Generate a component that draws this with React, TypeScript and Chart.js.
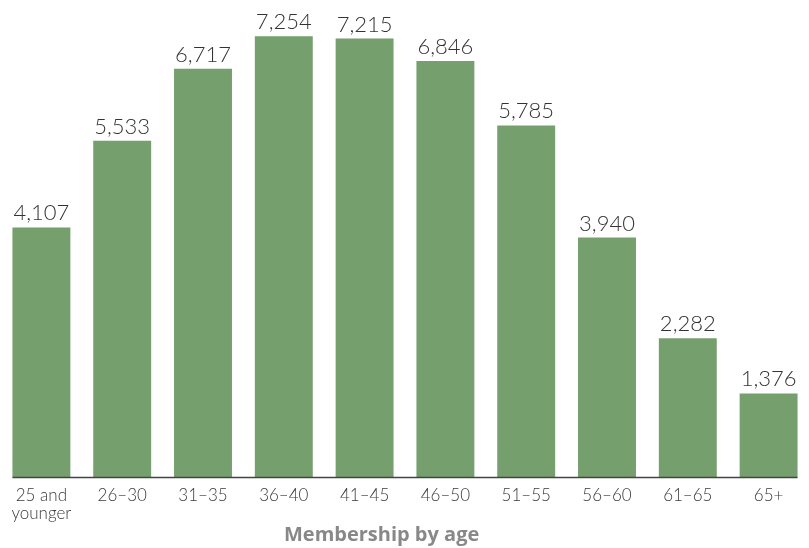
import React, { useEffect, useRef } from "react";
import { Chart, registerables } from "chart.js";

Chart.register(...registerables);

const categories: (string | string[])[] = [
  ["25 and", "younger"],
  "26–30",
  "31–35",
  "36–40",
  "41–45",
  "46–50",
  "51–55",
  "56–60",
  "61–65",
  "65+",
];
const members: number[] = [4107, 5533, 6717, 7254, 7215, 6846, 5785, 3940, 2282, 1376];
const axisTitle = "Membership by age";

const BAR_COLOR = "#759f6d";

const valueLabels = {
  id: "valueLabels",
  afterDatasetsDraw(chart: any) {
    const ctx = chart.ctx;
    const meta = chart.getDatasetMeta(0);
    const data = chart.data.datasets[0].data as number[];
    ctx.save();
    ctx.font = "300 22px Lato, 'Open Sans', sans-serif";
    ctx.fillStyle = "#333333";
    ctx.textAlign = "center";
    ctx.textBaseline = "alphabetic";
    meta.data.forEach((bar: any, i: number) => {
      ctx.fillText(data[i].toLocaleString("en-US"), bar.x, bar.y - 7);
    });
    // baseline
    const first = meta.data[0];
    const last = meta.data[meta.data.length - 1];
    const y = chart.scales.y.getPixelForValue(0);
    ctx.strokeStyle = "#444444";
    ctx.lineWidth = 1.5;
    ctx.beginPath();
    ctx.moveTo(first.x - first.width / 2, y + 0.5);
    ctx.lineTo(last.x + last.width / 2, y + 0.5);
    ctx.stroke();
    ctx.restore();
  },
};

export default function App() {
  const ref = useRef<HTMLCanvasElement | null>(null);
  useEffect(() => {
    if (!ref.current) return;
    const chart = new Chart(ref.current, {
      type: "bar",
      data: {
        labels: categories,
        datasets: [
          {
            data: members,
            backgroundColor: BAR_COLOR,
            barPercentage: 0.717,
            categoryPercentage: 1,
          },
        ],
      },
      options: {
        animation: false,
        responsive: true,
        maintainAspectRatio: false,
        layout: { padding: { top: 3, left: 1, right: 0, bottom: 0 } },
        plugins: {
          legend: { display: false },
          tooltip: { enabled: false },
        },
        scales: {
          x: {
            grid: { display: false },
            border: { display: false },
            ticks: {
              color: "#3a3a3a",
              font: { family: "Lato, 'Open Sans', sans-serif", size: 17, weight: "300", lineHeight: 1.05 },
              padding: 2,
              maxRotation: 0,
              autoSkip: false,
            },
            title: {
              display: true,
              text: axisTitle + "\u00a0\u00a0\u00a0\u00a0\u00a0\u00a0\u00a0\u00a0\u00a0",
              color: "#888888",
              font: { family: "'Open Sans', Lato, sans-serif", size: 20, weight: "bold", lineHeight: 1.2 },
              padding: { top: 0, bottom: 1 },
            },
            afterFit(scale: any) {
              scale.height = 71;
            },
          },
          y: {
            display: false,
            min: 0,
            max: 7800,
          },
        },
      },
      plugins: [valueLabels],
    });
    return () => chart.destroy();
  }, []);
  return (
    <div style={{ position: "absolute", left: 0, top: 0, width: 809, height: 548 }}>
      <canvas ref={ref} />
    </div>
  );
}
